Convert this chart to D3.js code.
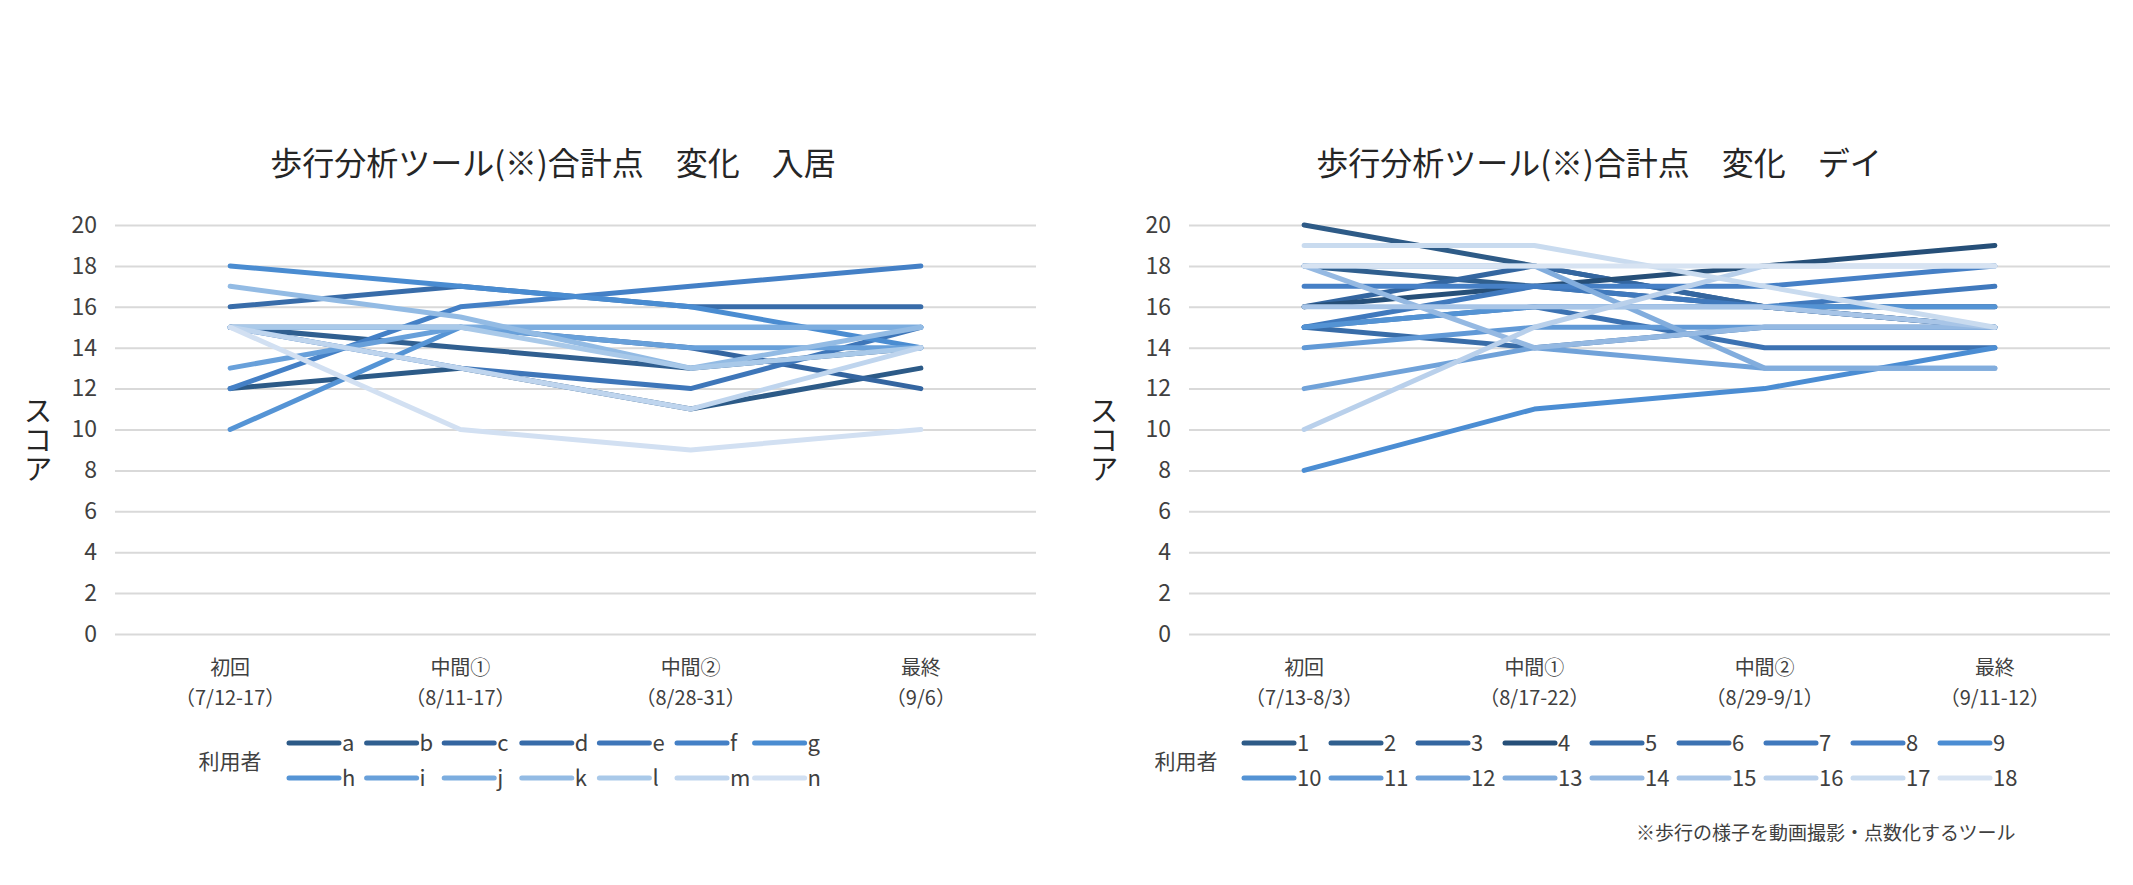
<!DOCTYPE html>
<html>
<head>
<meta charset="utf-8">
<script src="https://cdn.jsdelivr.net/npm/d3@7"></script>
<style>
  body { margin: 0; background: #ffffff; }
  text { font-family: "Noto Sans CJK JP", "Noto Sans", sans-serif; }
</style>
</head>
<body>
<script>
// stage names (same for both charts), dates differ
var stages = ["初回", "中間①", "中間②", "最終"];
var nyukyoDates = ["（7/12-17）", "（8/11-17）", "（8/28-31）", "（9/6）"];
var dayDates = ["（7/13-8/3）", "（8/17-22）", "（8/29-9/1）", "（9/11-12）"];

var yTicks = [0, 2, 4, 6, 8, 10, 12, 14, 16, 18, 20];

// 入居 users a-n, scores at each stage
var nyukyoUsers = ["a", "b", "c", "d", "e", "f", "g", "h", "i", "j", "k", "l", "m", "n"];
var nyukyoScores = [
  [12, 13, 11, 13],
  [15, 14, 13, 14],
  [15, 15, 14, 12],
  [16, 17, 16, 16],
  [15, 13, 12, 15],
  [12, 16, 17, 18],
  [18, 17, 16, 14],
  [10, 15, 15, 15],
  [13, 15, 14, 14],
  [15, 15, 15, 15],
  [17, 15.5, 13, 15],
  [15, 15, 13, 14],
  [15, 13, 11, 14],
  [15, 10, 9, 10]
];

// デイ users 1-18
var dayUsers = ["1", "2", "3", "4", "5", "6", "7", "8", "9", "10", "11", "12", "13", "14", "15", "16", "17", "18"];
var dayScores = [
  [20, 18, 16, 15],
  [18, 17, 16, 16],
  [16, 18, 16, 15],
  [16, 17, 18, 19],
  [15, 14, 15, 15],
  [15, 16, 14, 14],
  [15, 17, 16, 17],
  [17, 17, 17, 18],
  [8, 11, 12, 14],
  [15, 16, 16, 16],
  [14, 15, 15, 15],
  [12, 14, 13, 13],
  [18, 18, 13, 13],
  [18, 14, 15, 15],
  [16, 16, 16, 15],
  [10, 15, 18, 18],
  [19, 19, 17, 15],
  [18, 18, 18, 18]
];

// monochrome blue palettes (dark -> light)
var nyukyoColors = ["#2c5a87", "#305f90", "#3465a0", "#386ca9", "#3e76b9", "#4480c6", "#4a8cd1",
                    "#5594d5", "#68a0da", "#7caddf", "#93bbe4", "#a9c9e9", "#bfd5ee", "#d2e0f2"];
var dayColors = ["#2e5b87", "#305f8e", "#3466a0", "#264f78", "#386ca8", "#3c72b2", "#4079bd", "#4680c6", "#4b8dd3",
                 "#5493d4", "#6199d6", "#70a2d9", "#82addd", "#95b9e2", "#a8c5e7", "#b9d0eb", "#c9dbef", "#d7e3f2"];

var w = 2133;
var h = 885;

var svg = d3.select("body")
            .append("svg")
            .attr("width", w)
            .attr("height", h);

function drawChart(opt) {
  var g = svg.append("g");

  var xScale = d3.scalePoint()
                 .domain(d3.range(stages.length))
                 .range([opt.left, opt.right])
                 .padding(0.5);

  var yScale = d3.scaleLinear()
                 .domain([0, 20])
                 .range([634, 225]);

  // gridlines + y labels
  var y_axis = d3.axisLeft(yScale)
                 .tickValues(yTicks)
                 .tickSize(-(opt.right - opt.left))
                 .tickPadding(18);

  var ya = g.append("g")
            .attr("transform", "translate(" + opt.left + ",0)")
            .call(y_axis);
  ya.select(".domain").remove();
  ya.selectAll("line").attr("stroke", "#d9d9d9").attr("stroke-width", 2);
  ya.selectAll("text")
    .style("font-size", "23px")
    .attr("fill", "#404040");

  // title
  g.append("text")
   .attr("x", opt.titleX)
   .attr("y", 175)
   .attr("text-anchor", "middle")
   .style("font-size", "32px")
   .attr("fill", "#262626")
   .text(opt.title);

  // vertical y axis title
  g.append("text")
   .attr("x", opt.yTitleX)
   .attr("y", 440)
   .attr("text-anchor", "middle")
   .style("writing-mode", "vertical-rl")
   .style("font-size", "29px")
   .attr("fill", "#262626")
   .text("スコア");

  // category labels, two lines each
  g.selectAll(".xlab")
   .data(stages)
   .enter()
   .append("text")
   .attr("class", "xlab")
   .attr("x", function(d, i) { return xScale(i); })
   .attr("y", 675)
   .attr("text-anchor", "middle")
   .style("font-size", "20px")
   .attr("fill", "#404040")
   .text(function(d) { return d; });

  g.selectAll(".xdate")
   .data(opt.dates)
   .enter()
   .append("text")
   .attr("class", "xdate")
   .attr("x", function(d, i) { return xScale(i); })
   .attr("y", 705)
   .attr("text-anchor", "middle")
   .style("font-size", "20px")
   .attr("fill", "#404040")
   .text(function(d) { return d; });

  // lines
  var line = d3.line()
               .x(function(d, i) { return xScale(i); })
               .y(function(d) { return yScale(d); });

  g.selectAll(".series")
   .data(opt.scores)
   .enter()
   .append("path")
   .attr("class", "series")
   .attr("d", line)
   .attr("fill", "none")
   .attr("stroke", function(d, i) { return opt.colors[i]; })
   .attr("stroke-width", 5)
   .attr("stroke-linejoin", "round")
   .attr("stroke-linecap", "round");

  // legend
  g.append("text")
   .attr("x", opt.legendTitleX)
   .attr("y", 769)
   .attr("text-anchor", "middle")
   .style("font-size", "21px")
   .attr("fill", "#404040")
   .text("利用者");

  var items = g.selectAll(".leg")
               .data(opt.users)
               .enter()
               .append("g")
               .attr("class", "leg")
               .attr("transform", function(d, i) {
                 var col = i % opt.perRow;
                 var row = Math.floor(i / opt.perRow);
                 return "translate(" + (opt.legendX + col * opt.legendStep) + "," + (743 + row * 35) + ")";
               });
  items.append("line")
       .attr("x1", 0).attr("x2", 50)
       .attr("y1", 0).attr("y2", 0)
       .attr("stroke", function(d, i) { return opt.colors[i]; })
       .attr("stroke-width", 5)
       .attr("stroke-linecap", "round");
  items.append("text")
       .attr("x", 53)
       .attr("y", 8)
       .style("font-size", "22px")
       .attr("fill", "#404040")
       .text(function(d) { return d; });
}

drawChart({
  title: "歩行分析ツール(※)合計点　変化　入居",
  titleX: 553, left: 115, right: 1036, yTitleX: 38,
  dates: nyukyoDates, scores: nyukyoScores, users: nyukyoUsers, colors: nyukyoColors,
  legendTitleX: 230, legendX: 289, legendStep: 77.6, perRow: 7
});

drawChart({
  title: "歩行分析ツール(※)合計点　変化　デイ",
  titleX: 1599, left: 1189, right: 2110, yTitleX: 1104,
  dates: dayDates, scores: dayScores, users: dayUsers, colors: dayColors,
  legendTitleX: 1186, legendX: 1244, legendStep: 87, perRow: 9
});

svg.append("text")
   .attr("x", 1636)
   .attr("y", 840)
   .style("font-size", "19px")
   .attr("fill", "#404040")
   .text("※歩行の様子を動画撮影・点数化するツール");
</script>
</body>
</html>
